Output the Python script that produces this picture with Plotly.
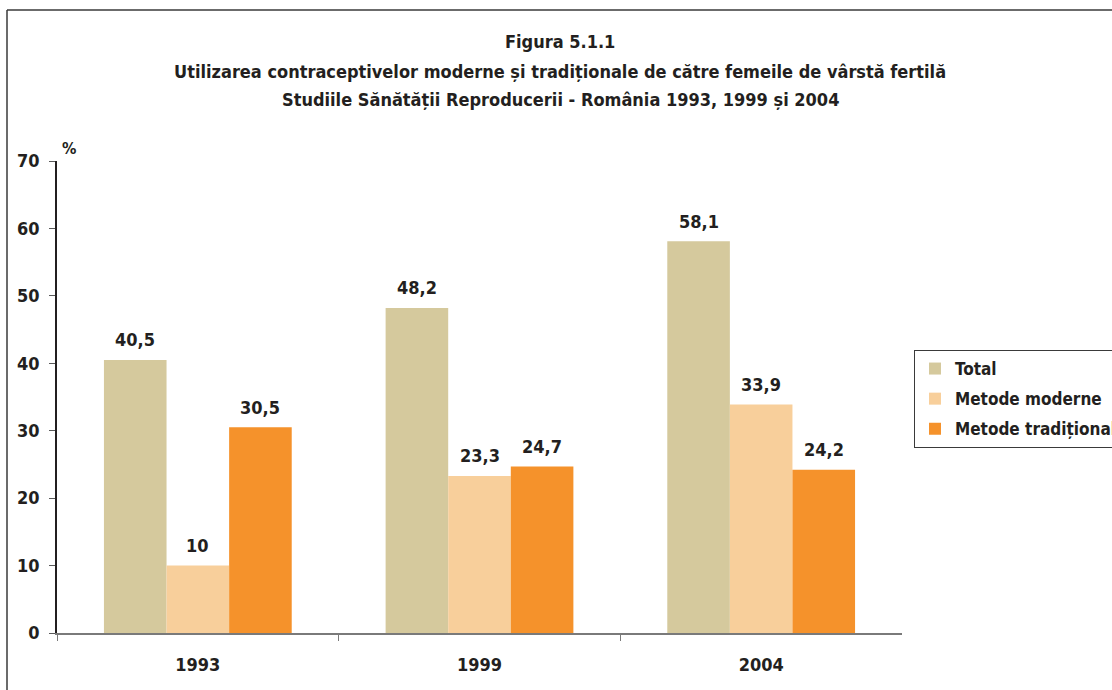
import plotly.graph_objects as go

W, H = 1112, 690
FONT = "DejaVu Sans Condensed, Liberation Sans Narrow, sans-serif"
INK = "#231f20"

years = ["1993", "1999", "2004"]
series_names = ["Total", "Metode moderne", "Metode tradiționale"]
total = [40.5, 48.2, 58.1]
moderne = [10.0, 23.3, 33.9]
traditionale = [30.5, 24.7, 24.2]
colors = ["#d5c99d", "#f8cf9b", "#f5922b"]
y_ticks = [0, 10, 20, 30, 40, 50, 60, 70]

title_lines = [
    "Figura 5.1.1",
    "Utilizarea contraceptivelor moderne și tradiționale de către femeile de vârstă fertilă",
    "Studiile Sănătății Reproducerii - România 1993, 1999 și 2004",
]


def fmt(v):
    return f"{v:g}".replace(".", ",")


# plot area in pixels
x0, x1, ytop, ybot = 57, 902, 161, 633
fig = go.Figure()
for k, (name, vals, col) in enumerate(zip(series_names, [total, moderne, traditionale], colors)):
    fig.add_trace(go.Bar(x=years, y=vals, name=f"<b>{name}</b>", marker_color=col,
                         marker_line_width=0, legendgroup=f"g{k}"))

# value labels above bars (x given as category index)
bar_w = (x1 - x0) / 3 * (1 - 1 / 3) / 3
for i, vals in enumerate([total, moderne, traditionale]):
    for j, v in enumerate(vals):
        fig.add_annotation(x=j, y=v, text=f"<b>{fmt(v)}</b>", showarrow=False,
                           xshift=(i - 1) * bar_w, yshift=20,
                           font=dict(family=FONT, size=18, color=INK))

# title
for txt, yp in zip(title_lines, [42, 72, 100]):
    fig.add_annotation(x=560 / W, y=1 - yp / H, xref="paper", yref="paper",
                       text=f"<b>{txt}</b>", showarrow=False, yanchor="middle",
                       font=dict(family=FONT, size=18, color=INK))
fig.add_annotation(x=60 / W, y=1 - 137 / H, xref="paper", yref="paper",
                   text="<b>%</b>", showarrow=False,
                   font=dict(family=FONT, size=16, color=INK))

# page frame (top + left edge)
fig.add_shape(type="line", xref="paper", yref="paper", x0=7 / W, x1=1.01,
              y0=1 - 10 / H, y1=1 - 10 / H, line=dict(color="#3a3a3a", width=1.5))
fig.add_shape(type="line", xref="paper", yref="paper", x0=7 / W, x1=7 / W,
              y0=-0.01, y1=1 - 10 / H, line=dict(color="#3a3a3a", width=1.5))

fig.update_layout(
    width=W, height=H, paper_bgcolor="white", plot_bgcolor="white",
    barmode="group", bargap=1 / 3, bargroupgap=0,
    margin=dict(l=0, r=0, t=0, b=0, autoexpand=False),
    font=dict(family=FONT, color=INK, size=18),
    legend=dict(x=914 / W, y=1 - 350 / H, xanchor="left", yanchor="top",
                bordercolor="#3a3a3a", borderwidth=1, bgcolor="white",
                font=dict(family=FONT, size=17, color=INK), tracegroupgap=5,
                itemwidth=30),
    showlegend=True,
)
fig.update_xaxes(type="category", range=[-0.5, 2.5], domain=[x0 / W, x1 / W],
                 showline=True, linecolor="#7a7a7a", linewidth=1.5, ticks="outside",
                 tickson="boundaries", ticklen=6, tickcolor="#7a7a7a", showgrid=False,
                 ticktext=[f"<b>{y}</b>" for y in years], tickvals=years,
                 ticklabelstandoff=15, tickfont=dict(family=FONT, size=18, color=INK))
fig.update_yaxes(domain=[1 - ybot / H, 1 - ytop / H], range=[0, 70],
                 tickvals=y_ticks, ticktext=[f"<b>{t}</b>" for t in y_ticks],
                 showline=True, linecolor="#231f20", linewidth=1.5,
                 ticks="outside", ticklen=6, tickcolor="#5a5a5a", showgrid=False,
                 ticklabelstandoff=6, zeroline=False,
                 tickfont=dict(family=FONT, size=18, color=INK))

fig.write_html("out.html", config={"displayModeBar": False},
               post_script="document.body.style.margin='0';")
